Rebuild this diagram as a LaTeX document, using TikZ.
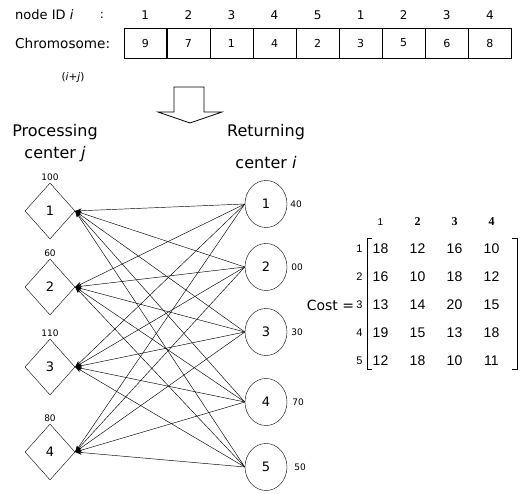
\documentclass[tikz,border=0pt]{standalone}
\usepackage{fontspec}
\setmainfont{DejaVu Sans}
\newfontfamily\numfont{Liberation Sans}
\newfontfamily\hdfont{Liberation Serif}
\usetikzlibrary{positioning,shapes.geometric,matrix,arrows.meta}
\begin{document}
\begin{tikzpicture}[x=1pt,y=-1pt,
    pc/.style={draw,diamond,minimum width=50pt,minimum height=56pt,inner sep=0pt,font=\fontsize{13}{14}\selectfont},
    rc/.style={draw,ellipse,minimum width=42pt,minimum height=47pt,inner sep=0pt,font=\fontsize{13}{14}\selectfont},
    cell/.style={draw,minimum width=42.67pt,minimum height=30pt,inner sep=0pt,font=\fontsize{11}{12}\selectfont},
    idnum/.style={font=\fontsize{12}{13}\selectfont,inner sep=0pt},
    smalltxt/.style={font=\fontsize{9}{10}\selectfont,inner sep=1pt},
    bigtxt/.style={font=\fontsize{16}{18}\selectfont,inner sep=0pt},
    flow/.style={-{Stealth[length=6.5pt,width=4.5pt]},line width=0.45pt}]
\useasboundingbox (0,0) rectangle (525,494);
% chromosome
\node (idlbl) at (15,15) [anchor=west,font=\fontsize{13}{14}\selectfont,inner sep=0pt] {node ID \textit{i}};
\node (colon) at (102,15) [font=\fontsize{12}{13}\selectfont,inner sep=0pt] {:};
\node (chrom) at (15,43) [anchor=west,font=\fontsize{13.6}{15}\selectfont,inner sep=0pt] {Chromosome:};
\node (sumlbl) at (73,78) [font=\fontsize{10.5}{12}\selectfont,inner sep=0pt] {(\textit{i}+\textit{j})};
\node (g1) at (145.3,43) [cell] {9};
\node (g2) [cell,right=0pt of g1] {7};
\node (g3) [cell,right=0pt of g2] {1};
\node (g4) [cell,right=0pt of g3] {4};
\node (g5) [cell,right=0pt of g4] {2};
\node (g6) [cell,right=0pt of g5] {3};
\node (g7) [cell,right=0pt of g6] {5};
\node (g8) [cell,right=0pt of g7] {6};
\node (g9) [cell,right=0pt of g8] {8};
\node (id1) at ([yshift=28pt]g1) [idnum] {1};
\node (id2) at ([yshift=28pt]g2) [idnum] {2};
\node (id3) at ([yshift=28pt]g3) [idnum] {3};
\node (id4) at ([yshift=28pt]g4) [idnum] {4};
\node (id5) at ([yshift=28pt]g5) [idnum] {5};
\node (id6) at ([yshift=28pt]g6) [idnum] {1};
\node (id7) at ([yshift=28pt]g7) [idnum] {2};
\node (id8) at ([yshift=28pt]g8) [idnum] {3};
\node (id9) at ([yshift=28pt]g9) [idnum] {4};
% decoding arrow
\draw[line width=0.8pt] (174,87) -- (204,87) -- (204,112) -- (222,112) -- (190,123) -- (158,112) -- (174,112) -- cycle;
% centers
\node (proc) at (55,132) [bigtxt] {Processing};
\node (procj) at (55,154) [bigtxt] {center \textit{j}};
\node (ret) at (266,132) [bigtxt] {Returning};
\node (reti) at (266,163) [bigtxt] {center \textit{i}};
\node (p1) at (50,211) [pc] {1};
\node (p2) at (50,287) [pc] {2};
\node (p3) at (50,367) [pc] {3};
\node (p4) at (50,452) [pc] {4};
\node (s1) [smalltxt,above=1pt of p1] {100};
\node (s2) [smalltxt,above=1pt of p2] {60};
\node (s3) [smalltxt,above=1pt of p3] {110};
\node (s4) [smalltxt,above=1pt of p4] {80};
\node (c1) at (266,204) [rc] {1};
\node (c2) at (266,267) [rc] {2};
\node (c3) at (266,332) [rc] {3};
\node (c4) at (266,402) [rc] {4};
\node (c5) at (266,467) [rc] {5};
\node (d1) [smalltxt,right=2pt of c1] {40};
\node (d2) [smalltxt,right=3pt of c2] {00};
\node (d3) [smalltxt,right=3pt of c3] {30};
\node (d4) [smalltxt,right=4pt of c4] {70};
\node (d5) [smalltxt,right=6pt of c5] {50};
% flows
\draw[flow] (c1.west) -- (p1.east);
\draw[flow] (c1.west) -- (p2.east);
\draw[flow] (c1.west) -- (p3.east);
\draw[flow] (c1.west) -- (p4.east);
\draw[flow] (c2.west) -- (p1.east);
\draw[flow] (c2.west) -- (p2.east);
\draw[flow] (c2.west) -- (p3.east);
\draw[flow] (c2.west) -- (p4.east);
\draw[flow] (c3.west) -- (p1.east);
\draw[flow] (c3.west) -- (p2.east);
\draw[flow] (c3.west) -- (p3.east);
\draw[flow] (c3.west) -- (p4.east);
\draw[flow] (c4.west) -- (p1.east);
\draw[flow] (c4.west) -- (p2.east);
\draw[flow] (c4.west) -- (p3.east);
\draw[flow] (c4.west) -- (p4.east);
\draw[flow] (c5.west) -- (p1.east);
\draw[flow] (c5.west) -- (p2.east);
\draw[flow] (c5.west) -- (p3.east);
\draw[flow] (c5.west) -- (p4.east);
% cost matrix
\matrix (cost) at (436,305) [matrix of nodes,inner sep=0pt,column sep=7pt,row sep=0pt,
    nodes={minimum width=30pt,minimum height=28pt,inner sep=0pt,font=\numfont\fontsize{14}{16}\selectfont}]
{18 & 12 & 16 & 10 \\ 16 & 10 & 18 & 12 \\ 13 & 14 & 20 & 15 \\ 19 & 15 & 13 & 18 \\ 12 & 18 & 10 & 11 \\};
\draw[line width=0.5pt] ([xshift=7pt,yshift=-4pt]cost.north west) -- ([xshift=2pt,yshift=-4pt]cost.north west)
    -- ([xshift=2pt,yshift=6pt]cost.south west) -- ([xshift=7pt,yshift=6pt]cost.south west);
\draw[line width=0.5pt] ([xshift=5pt,yshift=-4pt]cost.north east) -- ([xshift=10.5pt,yshift=-4pt]cost.north east)
    -- ([xshift=10.5pt,yshift=6pt]cost.south east) -- ([xshift=5pt,yshift=6pt]cost.south east);
\node (h1) at ([yshift=27pt]cost-1-1) [font=\numfont\fontsize{10}{11}\selectfont] {1};
\node (h2) at ([yshift=27pt]cost-1-2) [font=\hdfont\bfseries\fontsize{12}{13}\selectfont] {2};
\node (h3) at ([yshift=27pt]cost-1-3) [font=\hdfont\bfseries\fontsize{12}{13}\selectfont] {3};
\node (h4) at ([yshift=27pt]cost-1-4) [font=\hdfont\bfseries\fontsize{12}{13}\selectfont] {4};
\node (r1) [left=2.5pt of cost-1-1,font=\numfont\fontsize{11}{12}\selectfont,inner sep=0pt] {1};
\node (r2) [left=2.5pt of cost-2-1,font=\numfont\fontsize{11}{12}\selectfont,inner sep=0pt] {2};
\node (r3) [left=2.5pt of cost-3-1,font=\numfont\fontsize{11}{12}\selectfont,inner sep=0pt] {3};
\node (r4) [left=2.5pt of cost-4-1,font=\numfont\fontsize{11}{12}\selectfont,inner sep=0pt] {4};
\node (r5) [left=2.5pt of cost-5-1,font=\numfont\fontsize{11}{12}\selectfont,inner sep=0pt] {5};
\node (costname) [left=2pt of r3,font=\fontsize{14}{16}\selectfont,inner sep=0pt] {Cost =};
\end{tikzpicture}
\end{document}
